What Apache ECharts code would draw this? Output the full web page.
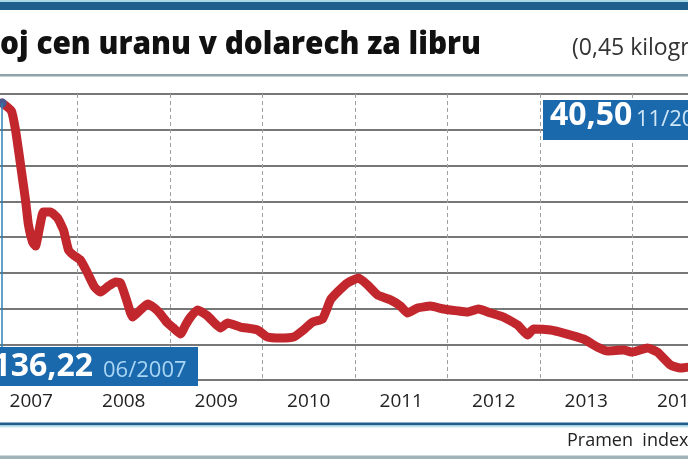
<!DOCTYPE html>
<html><head><meta charset="utf-8">
<script src="https://cdn.jsdelivr.net/npm/echarts@6/dist/echarts.min.js"></script>
<style>html,body{margin:0;padding:0;background:#fff;overflow:hidden;width:688px;height:459px;position:relative}
#c{position:absolute;left:-15px;top:0;width:740px;height:459px}</style>
</head><body><div id="c"></div>
<script>
// ---- data ----
const yearLabels = ['2007','2008','2009','2010','2011','2012','2013','2014'];
const xYears = [2007.186,2007.286,2007.330,2007.362,2007.395,2007.438,2007.470,2007.514,2007.546,2007.589,
  2007.632,2007.708,2007.784,2007.849,2007.903,2007.957,2008.032,2008.108,2008.184,2008.249,
  2008.335,2008.411,2008.465,2008.530,2008.595,2008.681,2008.757,2008.832,2008.897,2008.973,
  2009.038,2009.114,2009.168,2009.222,2009.297,2009.405,2009.481,2009.546,2009.622,2009.762,
  2009.946,2010.054,2010.195,2010.335,2010.443,2010.541,2010.649,2010.735,2010.811,2010.919,
  2011.038,2011.135,2011.243,2011.384,2011.492,2011.568,2011.676,2011.816,2011.957,2012.108,
  2012.216,2012.335,2012.465,2012.605,2012.757,2012.865,2012.930,2013.114,2013.254,2013.470,
  2013.622,2013.730,2013.903,2014.000,2014.162,2014.270,2014.411,2014.519,2014.627];
const prices = [136.22,132.9,124.9,116.5,107.3,95.5,85.0,77.9,76.2,83.8,
  90.5,90.5,88.0,82.9,74.5,72.4,70.3,64.9,59.0,56.9,
  59.4,61.1,60.7,53.6,46.4,49.4,51.9,50.2,47.7,43.9,
  41.8,39.3,43.1,46.4,49.4,46.9,43.9,41.8,43.9,42.2,
  41.0,38.0,37.6,38.0,41.0,44.3,45.6,53.6,56.9,60.7,
  62.8,59.9,55.7,53.6,51.0,48.1,50.2,51.0,49.8,49.0,
  48.5,49.8,48.1,46.4,43.1,38.9,41.4,41.0,39.7,37.2,
  33.8,32.2,32.6,31.7,33.4,31.7,26.3,25.0,25.5];
const peakValue = '136,22', peakDate = '06/2007';
const lastValue = '40,50', lastDate = '11/2014';
const titleText = 'Vývoj cen uranu v dolarech za libru';
const unitText = '(0,45 kilogramu)';
const sourceText = 'Pramen  indexmundi.com';

// ---- helpers ----
const OX = 15; // chart canvas starts 15px left of the window
function measure(text, font){ const c=document.createElement('canvas').getContext('2d'); c.font=font; return c.measureText(text).width; }
const titleFont = '800 31px "Open Sans"';
const visW = measure(titleText.slice(3), titleFont);   // visible part "oj cen ..."
const tsx = 481 / visW;

const BLUE = '#1b69ad', DARK = '#1f5f8e';
const chart = echarts.init(document.getElementById('c'), null, {renderer:'canvas'});
chart.setOption({
  backgroundColor:'#ffffff',
  animation:false,
  grid:{left:0, right:0, top:94, bottom:79, containLabel:false},
  xAxis:[
    {type:'value', min:2007, max:2015, show:false},
    {type:'category', data:yearLabels, boundaryGap:true, position:'bottom',
     axisLine:{show:false}, axisTick:{show:false},
     axisLabel:{interval:0, color:'#222', fontSize:19, fontFamily:'Open Sans', margin:12},
     splitLine:{show:true, interval:0, lineStyle:{color:'#a0a0a0', type:[4,3], width:1}}}
  ],
  yAxis:{type:'value', min:20, max:140, interval:15,
    axisLabel:{show:false}, axisLine:{show:false}, axisTick:{show:false},
    splitLine:{lineStyle:{color:'#4a4a4a', width:1.5}}},
  series:[
    {type:'line', xAxisIndex:0, data:xYears.map((x,i)=>[x,prices[i]]), showSymbol:false, smooth:0.15,
     lineStyle:{color:'#c1272d', width:9, cap:'round', join:'round'}, z:3,
     markLine:{silent:true, symbol:'none', label:{show:false}, animation:false,
       lineStyle:{color:'#2f80b5', width:1.5, type:'solid'},
       data:[[{coord:[xYears[0],prices[0]]},{coord:[xYears[0],20]}]]}},
    {type:'scatter', xAxisIndex:0, data:[[xYears[0],prices[0]]], symbolSize:9, itemStyle:{color:'#2a66a8'}, z:4}
  ],
  graphic:[
    {type:'rect', z:100, shape:{x:0,y:0,width:740,height:2}, style:{fill:'#a9d9e8'}},
    {type:'rect', z:100, shape:{x:0,y:2,width:740,height:8}, style:{fill:DARK}},
    {type:'text', z:100, x:OX+481, y:45, scaleX:tsx, style:{text:titleText, font:titleFont, fill:'#111', align:'right', verticalAlign:'middle'}},
    {type:'text', z:100, x:OX+572, y:48.5, style:{text:unitText, font:'23px "Open Sans"', fill:'#333', verticalAlign:'middle'}},
    {type:'rect', z:100, shape:{x:0,y:74,width:740,height:2.5}, style:{fill:'#8fa4aa'}},
    // peak label box
    {type:'rect', z:100, shape:{x:0,y:347,width:OX+198,height:39}, style:{fill:BLUE}},
    {type:'text', z:101, x:OX+93, y:366.5, style:{text:peakValue, font:'bold 32px "Open Sans"', fill:'#fff', align:'right', verticalAlign:'middle'}},
    {type:'text', z:101, x:OX+103, y:370.5, style:{text:peakDate, font:'22px "Open Sans"', fill:'#a9d6f5', verticalAlign:'middle'}},
    // last label box
    {type:'rect', z:100, shape:{x:OX+543,y:100,width:220,height:40}, style:{fill:BLUE}},
    {type:'text', z:101, x:OX+550, y:116, style:{text:lastValue, font:'bold 32px "Open Sans"', fill:'#fff', verticalAlign:'middle'}},
    {type:'text', z:101, x:OX+636, y:119.5, style:{text:lastDate, font:'22px "Open Sans"', fill:'#cfe6f7', verticalAlign:'middle'}},
    // bottom
    {type:'rect', z:100, shape:{x:0,y:422.5,width:740,height:3}, style:{fill:DARK}},
    {type:'rect', z:100, shape:{x:0,y:425.5,width:740,height:2}, style:{fill:'#c4e6f0'}},
    {type:'text', z:100, x:OX+567, y:441, style:{text:sourceText, font:'18px "Open Sans"', fill:'#222', verticalAlign:'middle'}},
    {type:'rect', z:100, shape:{x:0,y:455.5,width:740,height:3.5}, style:{fill:'#9fb3b8'}}
  ]
});
</script></body></html>
